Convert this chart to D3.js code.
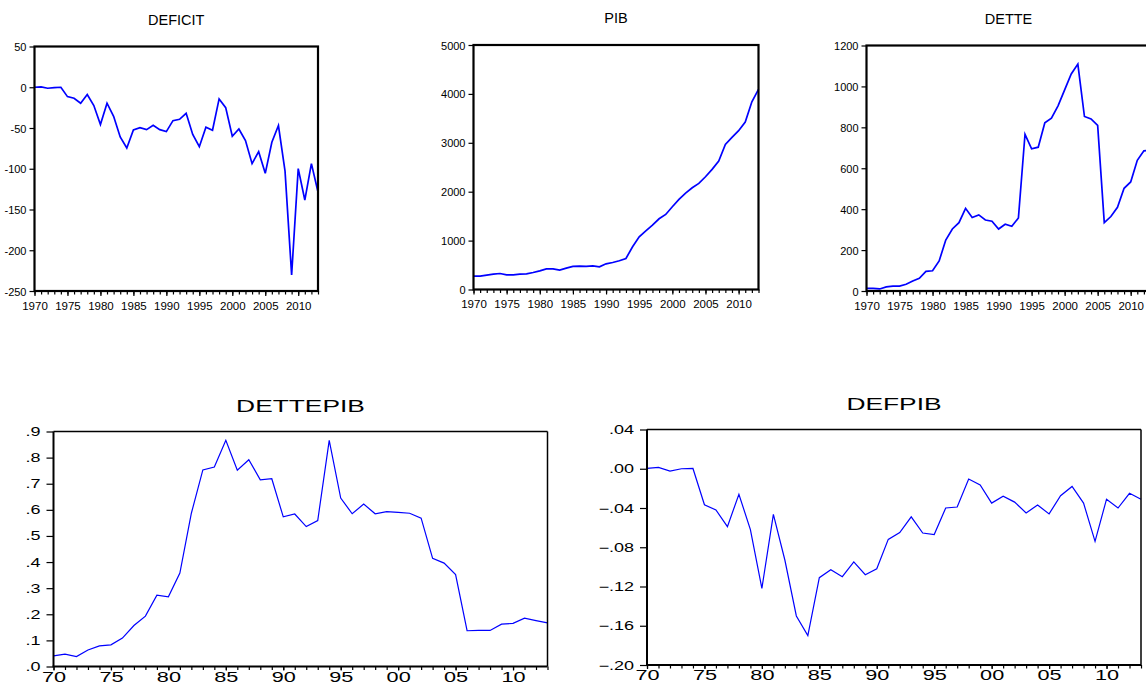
<!DOCTYPE html>
<html lang="en">
<head>
  <meta charset="UTF-8" />
  <title>DEFICIT, PIB, DETTE, DETTEPIB, DEFPIB</title>
  <style>
    html, body { margin: 0; padding: 0; background: #fff; }
    svg { display: block; font-family: Arial, "Liberation Sans", sans-serif; }
    .series { fill: none; stroke: #0000ff; stroke-linejoin: miter; }
    .frame { fill: none; stroke: #000; }
    .axis text { fill: #000; }
  </style>
</head>
<body>
  <svg width="1146" height="687"></svg>
  <script src="https://d3js.org/d3.v7.min.js"></script>
  <script>
    // years on the x axis
    const years = d3.range(1970, 2014);

    // series
    const deficit = [0, 0.4, -1.2, -0.4, 0, -11.5, -13.5, -19.6, -9, -22.5,
      -45.8, -19.6, -35.6, -61, -74.5, -52.4, -49.5, -52, -46.7, -52,
      -54.4, -41, -39.3, -32, -58, -72.9, -49, -52.8, -14.3, -25,
      -60.2, -51.2, -65.5, -93.7, -79, -105.6, -67.5, -47, -103, -230.4,
      -99.9, -138.4, -93.7, -128.5];
    const pib = [273, 273, 293, 314, 327, 300, 300, 314, 320, 348,
      382, 423, 423, 396, 437, 471, 477, 471, 484, 464,
      525, 553, 587, 634, 873, 1078, 1200, 1316, 1446, 1535,
      1692, 1842, 1971, 2081, 2169, 2306, 2456, 2626, 2967, 3110,
      3247, 3424, 3840, 4093];
    const dette = [13, 13, 10, 20, 24, 24, 33, 49, 62, 96,
      99, 147, 249, 303, 334, 404, 359, 372, 347, 341,
      303, 326, 316, 357, 766, 695, 703, 822, 845, 905,
      983, 1061, 1109, 853, 841, 809, 334, 364, 409, 502,
      533, 639, 685, 690];
    const dettePib = [0.041, 0.047, 0.038, 0.063, 0.079, 0.083, 0.109, 0.157, 0.193, 0.273,
      0.267, 0.358, 0.587, 0.753, 0.764, 0.866, 0.752, 0.792, 0.715, 0.719,
      0.573, 0.584, 0.536, 0.559, 0.866, 0.645, 0.585, 0.622, 0.585, 0.593,
      0.590, 0.587, 0.568, 0.414, 0.396, 0.352, 0.137, 0.138, 0.138, 0.162,
      0.165, 0.185, 0.176, 0.167];
    const defPib = [0.0003, 0.0014, -0.0024, 0, 0.0003, -0.0367, -0.042, -0.059, -0.026, -0.062,
      -0.122, -0.0465, -0.093, -0.150, -0.170, -0.111, -0.103, -0.110, -0.095, -0.108,
      -0.102, -0.072, -0.065, -0.049, -0.0655, -0.067, -0.040, -0.039, -0.0105, -0.0166,
      -0.035, -0.028, -0.034, -0.045, -0.037, -0.046, -0.0275, -0.018, -0.035, -0.074,
      -0.031, -0.040, -0.025, -0.031];

    // tick labels
    const majorYears = [1970, 1975, 1980, 1985, 1990, 1995, 2000, 2005, 2010];
    const deficitTicks = [50, 0, -50, -100, -150, -200, -250];
    const pibTicks = [0, 1000, 2000, 3000, 4000, 5000];
    const detteTicks = [0, 200, 400, 600, 800, 1000, 1200];
    const dettePibTicks = [0, 0.1, 0.2, 0.3, 0.4, 0.5, 0.6, 0.7, 0.8, 0.9];
    const defPibTicks = [0.04, 0, -0.04, -0.08, -0.12, -0.16, -0.2];

    const svg = d3.select("svg");

    const panels = [
      { title: "DEFICIT", values: deficit, domain: [-250, 50], ticks: deficitTicks,
        x: 34.5, y: 46.5, w: 283.5, h: 244.5, big: false },
      { title: "PIB", values: pib, domain: [0, 5000], ticks: pibTicks,
        x: 473.5, y: 45, w: 285, h: 244.5, big: false },
      { title: "DETTE", values: dette, domain: [0, 1200], ticks: detteTicks,
        x: 866.5, y: 45.5, w: 284, h: 245.5, big: false },
      { title: "DETTEPIB", values: dettePib, domain: [0, 0.9], ticks: dettePibTicks,
        fmt: d => d3.format(".1f")(d).replace("0.", "."),
        x: 53.5, y: 431.5, w: 494, h: 235, big: true },
      { title: "DEFPIB", values: defPib, domain: [-0.2, 0.04], ticks: defPibTicks,
        fmt: d => d3.format(".2f")(d).replace("0.", "."),
        x: 647, y: 429.5, w: 494, h: 235.5, big: true }
    ];

    panels.forEach(drawPanel);

    function drawPanel(p) {
      const g = svg.append("g").attr("transform", `translate(${p.x},${p.y})`);
      const sx = p.big ? 1.4 : 1; // the lower charts use a stretched lettering

      const x = d3.scaleLinear().domain([1970, 2013]).range([0, p.w]);
      const y = d3.scaleLinear().domain(p.domain).range([p.h, 0]);

      // title
      g.append("text")
        .attr("transform", `translate(${p.w / 2},${p.big ? -20 : -22}) scale(${p.big ? 1.55 : 1},1)`)
        .attr("text-anchor", "middle")
        .style("font-size", p.big ? "17px" : "14.5px")
        .text(p.title);

      // minor year ticks
      g.append("g")
        .attr("class", "axis")
        .attr("transform", `translate(0,${p.h})`)
        .call(d3.axisBottom(x).tickValues(years).tickSize(3.5).tickFormat("").tickSizeOuter(0))
        .call(a => a.select(".domain").remove())
        .call(a => a.selectAll("line").attr("stroke-width", 1.2));

      // labelled years
      const xa = g.append("g")
        .attr("class", "axis")
        .attr("transform", `translate(0,${p.h})`)
        .call(d3.axisBottom(x).tickValues(majorYears).tickSize(p.big ? 4 : 5).tickSizeOuter(0)
          .tickFormat(d => p.big ? String(d).slice(2) : String(d)))
        .call(a => a.select(".domain").remove())
        .call(a => a.selectAll("line").attr("stroke-width", 1.2));
      xa.selectAll("text")
        .style("font-size", p.big ? "15.5px" : "11.5px")
        .attr("y", null).attr("dy", null)
        .attr("transform", `translate(0,${p.big ? 15 : 18.5}) scale(${sx},1)`);

      // y axis
      const ya = g.append("g")
        .attr("class", "axis")
        .call(d3.axisLeft(y).tickValues(p.ticks).tickSize(p.big ? 7 : 5).tickSizeOuter(0)
          .tickFormat(p.fmt || (d => String(d))))
        .call(a => a.select(".domain").remove())
        .call(a => a.selectAll("line").attr("stroke-width", 1.2));
      ya.selectAll("text")
        .style("font-size", p.big ? "12px" : "11px")
        .attr("x", null).attr("dy", null)
        .attr("transform", `translate(${p.big ? -13 : -8},4) scale(${p.big ? 1.5 : 1},1)`);

      // series line
      const line = d3.line()
        .x((d, i) => x(years[i]))
        .y(d => y(d));
      g.append("path")
        .datum(p.values)
        .attr("class", "series")
        .attr("stroke-width", p.big ? 1.2 : 1.7)
        .attr("d", line);

      // frame
      if (p.big) {
        g.append("line").attr("class", "frame").attr("x1", 0).attr("x2", p.w).attr("y1", 0).attr("y2", 0).attr("stroke-width", 1.5);
        g.append("line").attr("class", "frame").attr("x1", p.w).attr("x2", p.w).attr("y1", 0).attr("y2", p.h).attr("stroke-width", 1.5);
        g.append("line").attr("class", "frame").attr("x1", 0).attr("x2", 0).attr("y1", 0).attr("y2", p.h).attr("stroke-width", 2);
        g.append("line").attr("class", "frame").attr("x1", -1).attr("x2", p.w).attr("y1", p.h).attr("y2", p.h).attr("stroke-width", 2);
      } else {
        g.append("rect").attr("class", "frame")
          .attr("width", p.w).attr("height", p.h)
          .attr("stroke-width", 2.2);
      }
    }
  </script>
</body>
</html>
